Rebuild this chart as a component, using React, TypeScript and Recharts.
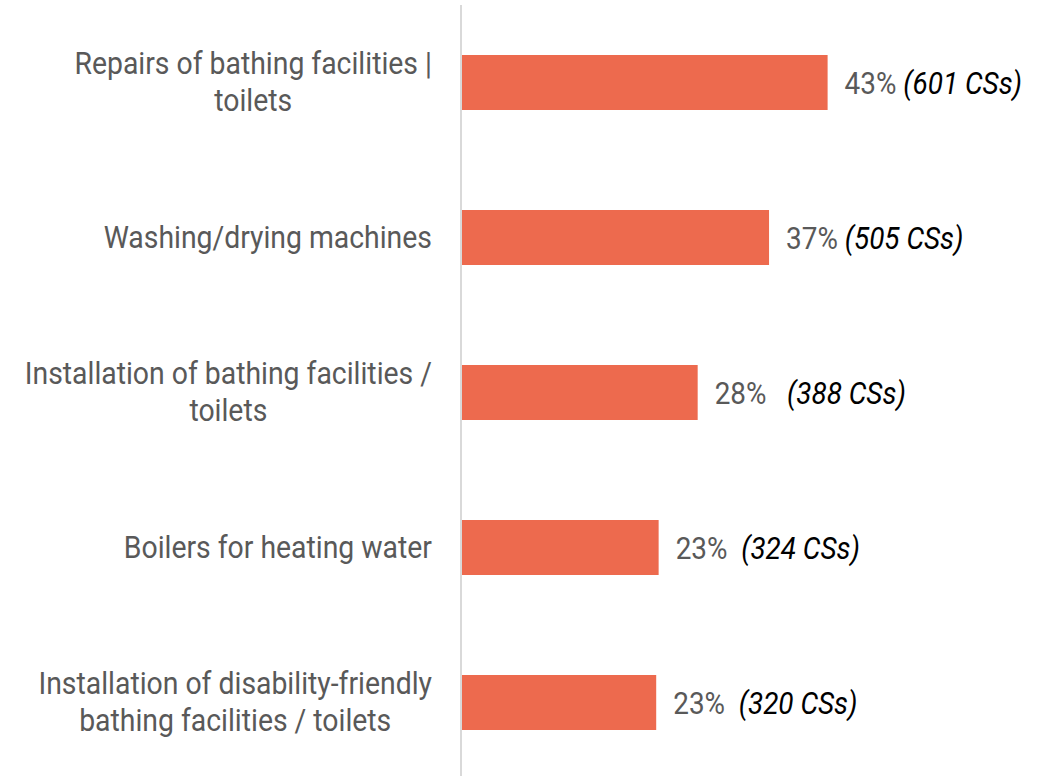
import React from 'react'
import { BarChart, Bar, XAxis, YAxis, LabelList } from 'recharts'

const categoryLines = [
    ['Repairs of bathing facilities |', 'toilets'],
    ['Washing/drying machines'],
    ['Installation of bathing facilities /', 'toilets'],
    ['Boilers for heating water'],
    ['Installation of disability-friendly', 'bathing facilities / toilets'],
]
const counts = [601, 505, 388, 324, 320]
const percents = ['43%', '37%', '28%', '23%', '23%']
const countLabels = [' (601 CSs)', ' (505 CSs)', '   (388 CSs)', '  (324 CSs)', '  (320 CSs)']

const categories = categoryLines.map((l) => l.join(' '))
const data = categories.map((name, i) => ({
    name,
    value: counts[i],
    pct: percents[i],
    cs: countLabels[i],
}))

const FONT = 'Roboto, "Noto Sans", sans-serif'
const FONT_SIZE = 31
const TICK_SX = 0.915 // squeeze Roboto to look like a condensed face
const LABEL_SX = 0.9
const LINE_H = 37.3

const ctx = typeof document !== 'undefined' ? document.createElement('canvas').getContext('2d') : null
function textWidth(s: string) {
    if (!ctx) return s.length * FONT_SIZE * 0.5
    ctx.font = `${FONT_SIZE}px Roboto`
    return ctx.measureText(s).width
}

function CategoryTick(props: any) {
    const { x, y, payload } = props
    const idx = categories.indexOf(payload.value)
    const lines = idx >= 0 ? categoryLines[idx] : [payload.value]
    const blockW = Math.max(...lines.map(textWidth)) * TICK_SX
    const cx = x + 7 - blockW / 2
    return (
        <g>
            {lines.map((line, i) => (
                <text
                    key={i}
                    transform={`translate(${cx},${y + 10 + (i - (lines.length - 1) / 2) * LINE_H}) scale(${TICK_SX},1)`}
                    textAnchor="middle"
                    fontFamily={FONT}
                    fontSize={FONT_SIZE}
                    fill="#595959"
                >
                    {line}
                </text>
            ))}
        </g>
    )
}

function ValueLabel(props: any) {
    const { x, y, width, height, index } = props
    const row = data[index]
    return (
        <text
            transform={`translate(${x + width + 17},${y + height / 2 + 11}) scale(${LABEL_SX},1)`}
            fontFamily={FONT}
            fontSize={FONT_SIZE}
            style={{ whiteSpace: 'pre' }}
        >
            <tspan fill="#595959">{row.pct}</tspan>
            <tspan fill="#000000" fontStyle="italic">{row.cs}</tspan>
        </text>
    )
}

export default function App() {
    return (
        <div style={{ position: 'fixed', left: 0, top: 0, width: 1045, height: 776, overflow: 'hidden', background: '#fff' }}>
            <BarChart
                width={1045}
                height={780}
                data={data}
                layout="vertical"
                margin={{ top: 5, right: 35, bottom: 0, left: 0 }}
            >
                <XAxis type="number" domain={[0, 900]} hide />
                <YAxis
                    type="category"
                    dataKey="name"
                    width={461}
                    axisLine={{ stroke: '#d9d9d9', strokeWidth: 2 }}
                    tickLine={false}
                    tick={<CategoryTick />}
                    tickMargin={30}
                    interval={0}
                />
                <Bar dataKey="value" fill="#ED6A4E" barSize={55} isAnimationActive={false}>
                    <LabelList dataKey="value" content={<ValueLabel />} />
                </Bar>
            </BarChart>
        </div>
    )
}
